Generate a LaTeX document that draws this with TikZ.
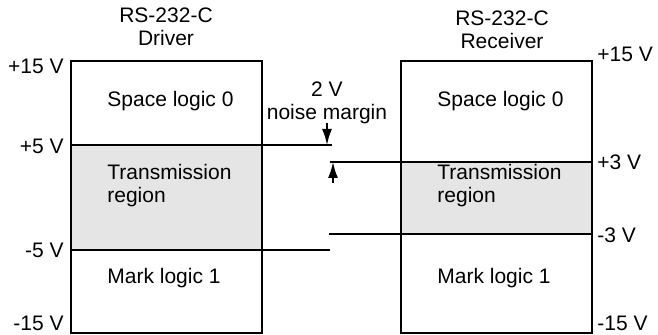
\documentclass[tikz,border=0pt]{standalone}
\usepackage{fontspec}
\setmainfont{Liberation Sans}
\usetikzlibrary{arrows.meta,positioning,calc}
\tikzset{
  vonal/.style={line width=1pt},
  sav/.style={fill=gray!20},
  felirat/.style={inner sep=0pt,align=left,anchor=base west},
  fej/.style={inner sep=0pt,align=center,anchor=base},
  fesz/.style={inner sep=0pt},
  nyl/.style={-{Latex[length=8pt,width=5pt]},line width=0.9pt},
}

\begin{document}
\begin{tikzpicture}[x=0.5pt,y=-0.5pt,font=\fontsize{10.5}{11.5}\selectfont]
  \useasboundingbox (0,0) rectangle (658,335);
  % driver side
  \coordinate (dtl) at (71,61);  \coordinate (dbr) at (262,333);
  \coordinate (d5) at (71,145);  \coordinate (d5e) at (332,145);
  \coordinate (dm5) at (71,250); \coordinate (dm5e) at (330,250);
  \fill[sav] (d5) rectangle (262,250);
  \draw[vonal] (dtl) rectangle (dbr);
  \draw[vonal] (d5) -- (d5e);
  \draw[vonal] (dm5) -- (dm5e);
  % receiver side
  \coordinate (rtl) at (401,61); \coordinate (rbr) at (592,333);
  \coordinate (r3s) at (330,162); \coordinate (r3) at (592,162);
  \coordinate (rm3s) at (329,234); \coordinate (rm3) at (592,234);
  \fill[sav] (401,162) rectangle (rm3);
  \draw[vonal] (rtl) rectangle (rbr);
  \draw[vonal] (r3s) -- (r3);
  \draw[vonal] (rm3s) -- (rm3);
  % headers (base = last line)
  \node[fej] (hd) at (166,46) {RS-232-C\\Driver};
  \node[fej] (hr) at (502,49) {RS-232-C\\Receiver};
  % region texts
  \node[felirat] (ds) at (107,107) {Space logic 0};
  \node[felirat] (dt) at (107,203) {Transmission\\region};
  \node[felirat] (dm) at (107,284) {Mark logic 1};
  \node[felirat] (rs) at (437,107) {Space logic 0};
  \node[felirat] (rt) at (437,203) {Transmission\\region};
  \node[felirat] (rm) at (437,284) {Mark logic 1};
  % voltage levels
  \node[fesz,anchor=east] (v15d) at (64,66) {+15 V};
  \node[fesz,anchor=east] (v5d) at (64,146) {+5 V};
  \node[fesz,anchor=east] (vm5d) at (64,250) {-5 V};
  \node[fesz,anchor=east] (vm15d) at (64,323) {-15 V};
  \node[fesz,anchor=west] (v15r) at (597,54) {+15 V};
  \node[fesz,anchor=west] (v3r) at (597,162) {+3 V};
  \node[fesz,anchor=west] (vm3r) at (597,235) {-3 V};
  \node[fesz,anchor=west] (vm15r) at (597,323) {-15 V};
  % noise margin
  \node[fej] (nm) at (327,120) {2 V\\noise margin};
  \coordinate (na) at (327,123); \coordinate (nb) at (333,183);
  \draw[nyl] (na) -- (na |- d5e);
  \draw[nyl] (nb) -- (nb |- r3s);
\end{tikzpicture}
\end{document}
